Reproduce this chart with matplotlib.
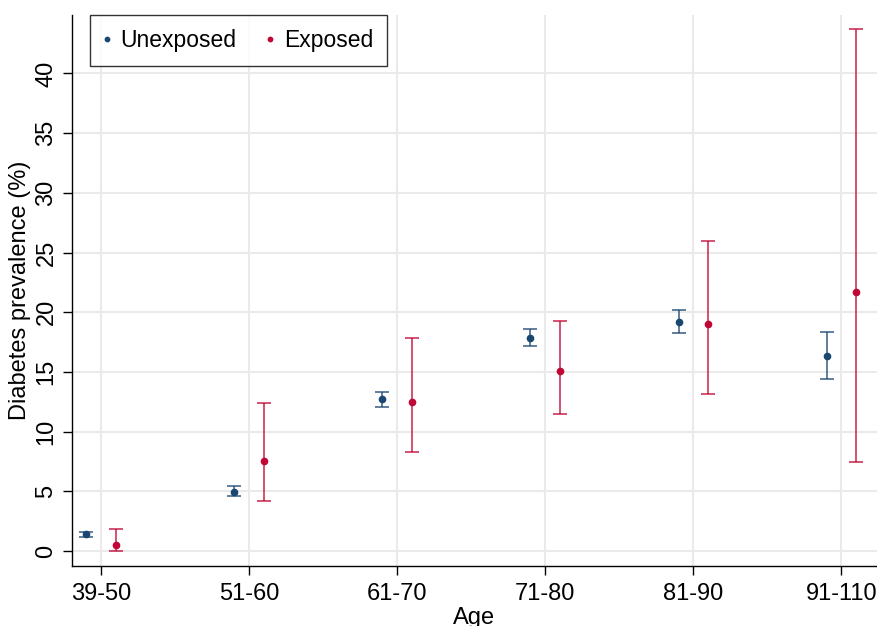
import numpy as np
import matplotlib.pyplot as plt

plt.rcParams['font.family'] = ['Liberation Sans', 'DejaVu Sans']

age_groups = ['39-50', '51-60', '61-70', '71-80', '81-90', '91-110']

unexp_prev = [1.40, 4.97, 12.72, 17.84, 19.18, 16.35]
unexp_lo = [1.20, 4.59, 12.10, 17.13, 18.26, 14.42]
unexp_hi = [1.57, 5.45, 13.33, 18.56, 20.15, 18.36]

exp_prev = [0.50, 7.57, 12.47, 15.09, 18.98, 21.72]
exp_lo = [0.03, 4.19, 8.25, 11.51, 13.19, 7.44]
exp_hi = [1.80, 12.40, 17.86, 19.29, 26.00, 43.70]

navy = '#1a476f'
red = '#c10534'

fig = plt.figure(figsize=(8.77, 6.26), dpi=100)
ax = fig.add_axes([72 / 877, 60 / 626, 805 / 877, 551 / 626])

x = np.arange(len(age_groups))
off = 0.1

def draw(xpos, prev, lo, hi, color, label):
    prev = np.array(prev)
    yerr = [prev - np.array(lo), np.array(hi) - prev]
    ax.errorbar(xpos, prev, yerr=yerr, fmt='none', ecolor=color, alpha=0.75,
                elinewidth=1.3, capsize=5, capthick=1.3, zorder=3)
    ax.plot(xpos, prev, 'o', color=color, markersize=4.5, linestyle='none',
            label=label, zorder=4)

draw(x - off, unexp_prev, unexp_lo, unexp_hi, navy, 'Unexposed')
draw(x + off, exp_prev, exp_lo, exp_hi, red, 'Exposed')

ax.set_xlim(-0.196, 5.24)
ax.set_ylim(-1.26, 44.9)
ax.set_xticks(x)
ax.set_xticklabels(age_groups)
ax.set_yticks(np.arange(0, 41, 5))
ax.tick_params(axis='y', labelrotation=90, labelsize=17, length=6.5, width=1, pad=4)
ax.tick_params(axis='x', labelsize=17, length=6.5, width=1, pad=6)
for lab in ax.get_yticklabels():
    lab.set_va('center')

ax.grid(True, color='#eaeaea', linewidth=1.5, zorder=0)
ax.set_axisbelow(True)
for s in ['top', 'right']:
    ax.spines[s].set_visible(False)
for s in ['left', 'bottom']:
    ax.spines[s].set_linewidth(1)

ax.set_ylabel('Diabetes prevalence (%)', fontsize=17, labelpad=3)
ax.set_xlabel('Age', fontsize=17, labelpad=1)

leg = ax.legend(loc='upper left', ncol=2, fontsize=16.5, frameon=True,
                fancybox=False, edgecolor='black', markerscale=0.7,
                handlelength=0.3, handletextpad=0.45, columnspacing=1.3,
                bbox_to_anchor=(0.022, 1.0), borderpad=0.6, borderaxespad=0)
leg.get_frame().set_linewidth(1)

fig.savefig('out.png', dpi=100)
